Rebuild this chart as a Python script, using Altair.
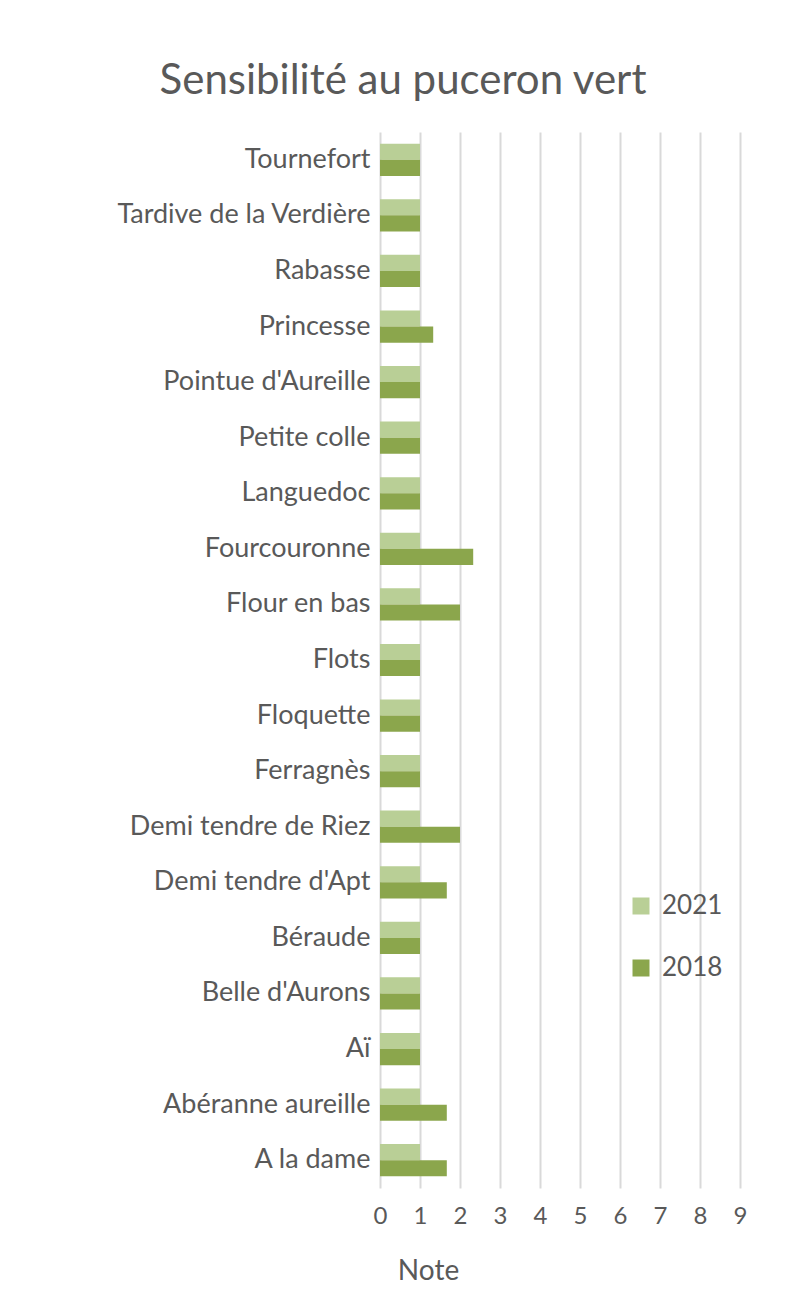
import altair as alt
import pandas as pd

categories = ["Tournefort", "Tardive de la Verdière", "Rabasse", "Princesse",
              "Pointue d'Aureille", "Petite colle", "Languedoc", "Fourcouronne",
              "Flour en bas", "Flots", "Floquette", "Ferragnès",
              "Demi tendre de Riez", "Demi tendre d'Apt", "Béraude",
              "Belle d'Aurons", "Aï", "Abéranne aureille", "A la dame"]
values_2021 = [1, 1, 1, 1, 1, 1, 1, 1, 1, 1, 1, 1, 1, 1, 1, 1, 1, 1, 1]
values_2018 = [1, 1, 1, 1.33, 1, 1, 1, 2.33, 2, 1, 1, 1, 2, 1.67, 1, 1, 1, 1.67, 1.67]
series = ["2021", "2018"]
colors = ["#B9CF96", "#8BA64C"]

rows = []
for c, a, b in zip(categories, values_2021, values_2018):
    rows.append({"Variété": c, "Année": "2021", "Note": a})
    rows.append({"Variété": c, "Année": "2018", "Note": b})
df = pd.DataFrame(rows)

FONT = "Lato"
TXT = "#595959"

chart = alt.Chart(df).mark_bar(cornerRadius=0).encode(
    y=alt.Y("Variété:N", sort=categories,
            scale=alt.Scale(paddingInner=0.42, paddingOuter=0.21),
            axis=alt.Axis(title=None, ticks=False, domain=False, grid=False,
                          labelFont=FONT, labelFontSize=27, labelColor=TXT,
                          labelPadding=10, labelLimit=400)),
    yOffset=alt.YOffset("Année:N", sort=series),
    x=alt.X("Note:Q", scale=alt.Scale(domain=[0, 9], nice=False),
            axis=alt.Axis(title="Note", values=list(range(10)), ticks=False,
                          domain=False, grid=True, gridColor="#D9D9D9",
                          gridWidth=2, labelFont=FONT, labelFontSize=24,
                          labelColor=TXT, labelPadding=16, labelFlush=False,
                          titleFont=FONT, titleFontSize=28, titleColor=TXT,
                          titleFontWeight="normal", titleX=48, titleY=91,
                          titleAlign="center", titleBaseline="alphabetic")),
    color=alt.Color("Année:N", sort=series,
                    scale=alt.Scale(domain=series, range=colors),
                    legend=alt.Legend(title=None, orient="none", legendX=248,
                                      legendY=761, symbolType="square",
                                      symbolSize=289, symbolStrokeWidth=0,
                                      labelFont=FONT, labelFontSize=26,
                                      labelColor=TXT, rowPadding=36,
                                      labelOffset=8)),
).properties(
    width=360, height=1056,
    padding={"left": 372, "top": 124, "right": 40, "bottom": 100},
    autosize=alt.AutoSizeParams(type="none"),
    title=alt.TitleParams("Sensibilité au puceron vert", font=FONT,
                          fontSize=42, fontWeight="normal", color=TXT,
                          anchor="middle", dx=-157, offset=29),
).configure_view(stroke=None)

chart.save("out.html", embed_options={"renderer": "svg", "actions": False})
